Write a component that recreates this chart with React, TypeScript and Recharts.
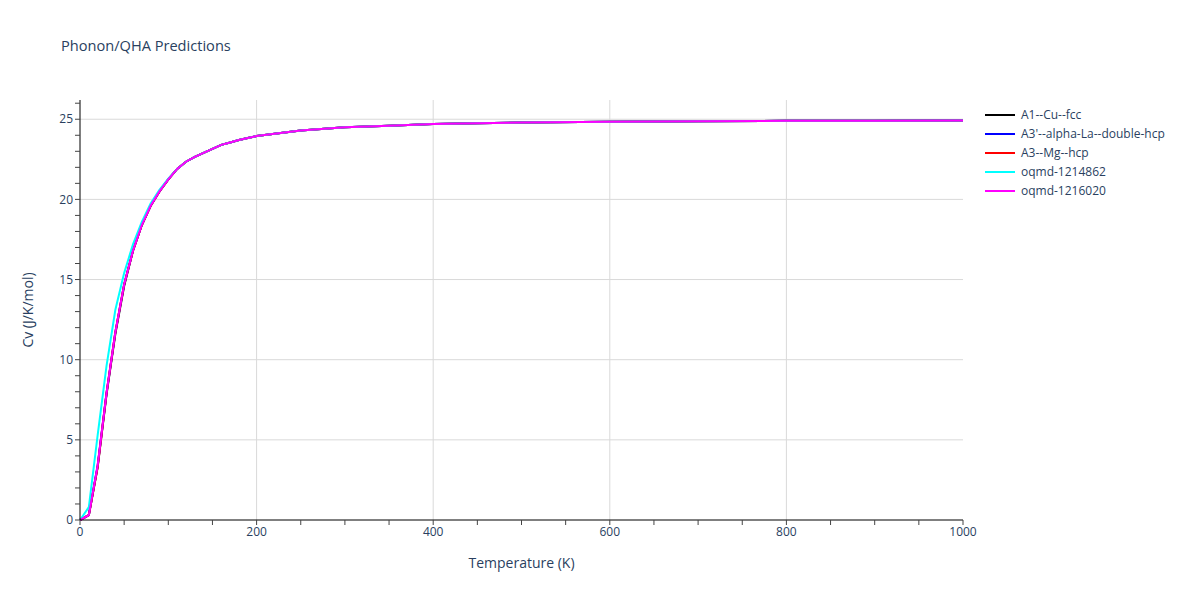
import React from 'react';
import { LineChart, Line, XAxis, YAxis, CartesianGrid } from 'recharts';

const temperatures = [0, 10, 20, 30, 40, 50, 60, 70, 80, 90, 100, 110, 120, 130, 140, 150, 160, 170, 180, 190, 200, 250, 300, 350, 400, 450, 500, 600, 700, 800, 900, 1000];

const cvCu = [0, 0.3, 3.3, 7.8, 11.6, 14.6, 16.8, 18.4, 19.6, 20.5, 21.25, 21.9, 22.35, 22.65, 22.9, 23.15, 23.4, 23.55, 23.7, 23.83, 23.95, 24.3, 24.5, 24.6, 24.7, 24.75, 24.8, 24.85, 24.88, 24.9, 24.9, 24.92];
const cvLa = [0, 0.3, 3.4, 7.9, 11.7, 14.7, 16.8, 18.4, 19.6, 20.5, 21.25, 21.9, 22.35, 22.65, 22.9, 23.15, 23.4, 23.55, 23.7, 23.83, 23.95, 24.3, 24.5, 24.6, 24.7, 24.75, 24.8, 24.85, 24.88, 24.9, 24.9, 24.92];
const cvMg = [0, 0.3, 3.3, 7.9, 11.7, 14.7, 16.8, 18.4, 19.6, 20.5, 21.25, 21.9, 22.35, 22.65, 22.9, 23.15, 23.4, 23.55, 23.7, 23.83, 23.95, 24.3, 24.5, 24.6, 24.7, 24.75, 24.8, 24.85, 24.88, 24.9, 24.9, 24.92];
const cvOqmd1214862 = [0, 0.8, 5.3, 9.6, 13.1, 15.4, 17.2, 18.6, 19.75, 20.6, 21.3, 21.9, 22.35, 22.65, 22.9, 23.15, 23.4, 23.55, 23.7, 23.83, 23.95, 24.3, 24.5, 24.6, 24.7, 24.75, 24.8, 24.85, 24.88, 24.9, 24.9, 24.92];
const cvOqmd1216020 = [0, 0.3, 3.4, 7.9, 11.7, 14.7, 16.8, 18.4, 19.6, 20.5, 21.25, 21.9, 22.35, 22.65, 22.9, 23.15, 23.4, 23.55, 23.7, 23.83, 23.95, 24.3, 24.5, 24.6, 24.7, 24.75, 24.8, 24.85, 24.88, 24.9, 24.9, 24.92];

const seriesInfo = [
  { key: 'cu', name: 'A1--Cu--fcc', color: '#000000', values: cvCu },
  { key: 'la', name: "A3'--alpha-La--double-hcp", color: '#0000ff', values: cvLa },
  { key: 'mg', name: 'A3--Mg--hcp', color: '#ff0000', values: cvMg },
  { key: 'o1', name: 'oqmd-1214862', color: '#00ffff', values: cvOqmd1214862 },
  { key: 'o2', name: 'oqmd-1216020', color: '#ff00ff', values: cvOqmd1216020 },
];

const xTicks = [0, 50, 100, 150, 200, 250, 300, 350, 400, 450, 500, 550, 600, 650, 700, 750, 800, 850, 900, 950, 1000];
const yTicks = Array.from({ length: 27 }, (_, i) => i);

const data = temperatures.map((t, i) => {
  const row: Record<string, number> = { t };
  seriesInfo.forEach(s => { row[s.key] = s.values[i]; });
  return row;
});

const font = '"Open Sans", "Noto Sans", sans-serif';
const textColor = '#2a3f5f';

export default function App() {
  return (
    <div style={{ position: 'absolute', left: 0, top: 0, width: 1200, height: 600, background: '#fff', fontFamily: font }}>
      <div style={{ position: 'absolute', left: 61, top: 35, fontSize: 14.6, color: textColor }}>Phonon/QHA Predictions</div>
      <div style={{ position: 'absolute', left: 985, top: 105, fontSize: 12, color: textColor }}>
        {seriesInfo.map(s => (
          <div key={s.key} style={{ display: 'flex', alignItems: 'center', height: 19 }}>
            <span style={{ display: 'inline-block', width: 30, height: 2, background: s.color, marginRight: 6 }} />
            <span>{s.name}</span>
          </div>
        ))}
      </div>
      <div style={{ position: 'absolute', left: 0, top: 0 }}>
        <LineChart width={1200} height={600} data={data} margin={{ top: 100, right: 237, bottom: 0, left: 0 }}>
          <CartesianGrid
            stroke="#d9d9d9"
            strokeWidth={1}
            horizontalValues={[5, 10, 15, 20, 25]}
            verticalValues={[200, 400, 600, 800]}
          />
          <XAxis
            dataKey="t"
            type="number"
            domain={[0, 1000]}
            ticks={xTicks}
            interval={0}
            height={80}
            tickSize={5}
            stroke="#000"
            tickLine={{ stroke: '#444' }}
            tick={{ fill: textColor, fontSize: 12, fontFamily: font }}
            tickFormatter={(v: number) => (v % 200 === 0 ? String(v) : '')}
            label={{ value: 'Temperature (K)', position: 'insideBottom', offset: 32, fill: textColor, fontSize: 14, fontFamily: font }}
          />
          <YAxis
            type="number"
            domain={[0, 26.2]}
            ticks={yTicks}
            interval={0}
            width={80}
            tickSize={5}
            stroke="#000"
            tickLine={{ stroke: '#444' }}
            tick={{ fill: textColor, fontSize: 12, fontFamily: font }}
            tickFormatter={(v: number) => (v % 5 === 0 ? String(v) : '')}
            label={{ value: 'Cv (J/K/mol)', angle: -90, position: 'insideLeft', offset: 28, fill: textColor, fontSize: 14, fontFamily: font, style: { textAnchor: 'middle' } }}
          />
          {seriesInfo.map(s => (
            <Line
              key={s.key}
              dataKey={s.key}
              name={s.name}
              stroke={s.color}
              strokeWidth={2}
              dot={false}
              type="linear"
              isAnimationActive={false}
            />
          ))}
        </LineChart>
      </div>
    </div>
  );
}
